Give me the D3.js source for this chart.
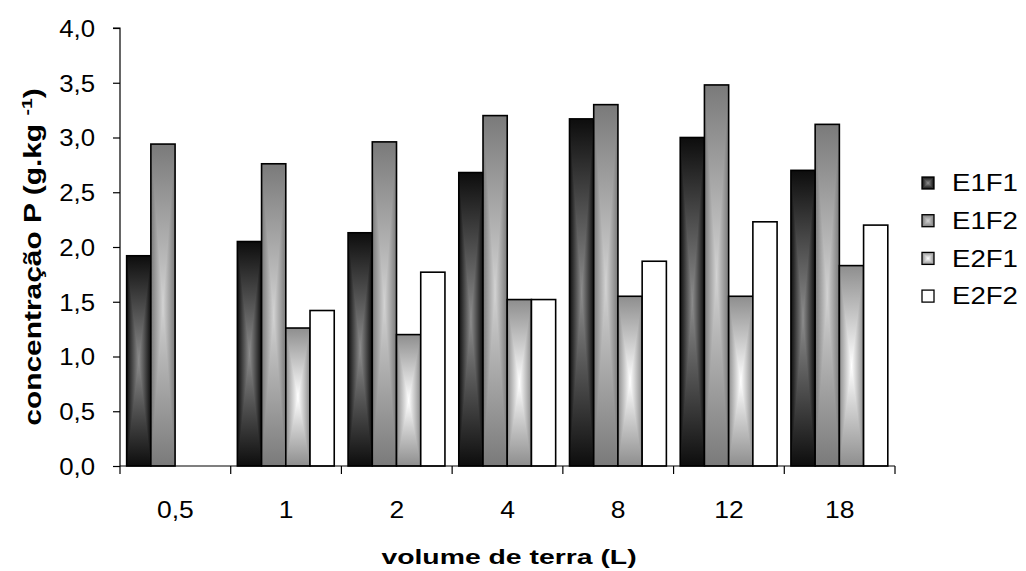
<!DOCTYPE html>
<html>
<head>
<meta charset="utf-8">
<script src="https://cdn.jsdelivr.net/npm/d3@7"></script>
<style>
  html, body { margin: 0; padding: 0; background: #fff; }
  svg { display: block; font-family: "Liberation Sans", Arial, sans-serif; }
</style>
</head>
<body>
<svg id="chart" width="1026" height="571"></svg>
<script>
// Phosphorus concentration by soil volume, four treatments
const categories = ["0,5", "1", "2", "4", "8", "12", "18"];
const seriesNames = ["E1F1", "E1F2", "E2F1", "E2F2"];
const E1F1 = [1.92, 2.05, 2.13, 2.68, 3.17, 3.00, 2.70];
const E1F2 = [2.94, 2.76, 2.96, 3.20, 3.30, 3.48, 3.12];
const E2F1 = [null, 1.26, 1.20, 1.52, 1.55, 1.55, 1.83];
const E2F2 = [null, 1.42, 1.77, 1.52, 1.87, 2.23, 2.20];
const yTicks = [0, 0.5, 1, 1.5, 2, 2.5, 3, 3.5, 4];

const seriesValues = [E1F1, E1F2, E2F1, E2F2];
// edge / centre shades of each "from centre" fill
const shades = [
  { edge: "#0d0d0d", centre: "#8c8c8c" },
  { edge: "#7a7a7a", centre: "#d2d2d2" },
  { edge: "#8e8e8e", centre: "#ffffff" },
  { edge: "#ffffff", centre: "#ffffff" }
];

const svg = d3.select("#chart");
const plot = { left: 120, right: 895, top: 28, bottom: 466 };

const x = d3.scaleBand().domain(categories).range([plot.left, plot.right]).padding(0);
const xs = d3.scaleBand().domain(seriesNames)
  .range([x.bandwidth() * 0.06, x.bandwidth() * 0.935]).padding(0);
const y = d3.scaleLinear().domain([0, 4]).range([plot.bottom, plot.top]);

// widen a text run by a factor, keeping its font size
function widen(sel, k) {
  sel.each(function () {
    const w = this.getComputedTextLength();
    d3.select(this).attr("textLength", w * k).attr("lengthAdjust", "spacingAndGlyphs");
  });
}

// gradients: one across the width, one for each half of the height
const defs = svg.append("defs");
seriesNames.forEach((name, i) => {
  const s = shades[i];
  const h = defs.append("linearGradient").attr("id", "gh" + i)
    .attr("x1", 0).attr("y1", 0).attr("x2", 1).attr("y2", 0);
  h.append("stop").attr("offset", 0).attr("stop-color", s.edge);
  h.append("stop").attr("offset", 0.5).attr("stop-color", s.centre);
  h.append("stop").attr("offset", 1).attr("stop-color", s.edge);
  const t = defs.append("linearGradient").attr("id", "gt" + i)
    .attr("x1", 0).attr("y1", 0).attr("x2", 0).attr("y2", 1);
  t.append("stop").attr("offset", 0).attr("stop-color", s.edge);
  t.append("stop").attr("offset", 1).attr("stop-color", s.centre);
  const b = defs.append("linearGradient").attr("id", "gb" + i)
    .attr("x1", 0).attr("y1", 0).attr("x2", 0).attr("y2", 1);
  b.append("stop").attr("offset", 0).attr("stop-color", s.centre);
  b.append("stop").attr("offset", 1).attr("stop-color", s.edge);
});

// rectangle shaded from its centre outwards (sides + top/bottom wedges)
function shadedBox(g, i, bx, by, bw, bh, sw) {
  const cx = bx + bw / 2, cy = by + bh / 2;
  g.append("rect").attr("x", bx).attr("y", by).attr("width", bw).attr("height", bh)
    .attr("fill", `url(#gh${i})`);
  g.append("path").attr("d", `M${bx},${by}L${bx + bw},${by}L${cx},${cy}Z`)
    .attr("fill", `url(#gt${i})`);
  g.append("path").attr("d", `M${bx},${by + bh}L${bx + bw},${by + bh}L${cx},${cy}Z`)
    .attr("fill", `url(#gb${i})`);
  g.append("rect").attr("x", bx).attr("y", by).attr("width", bw).attr("height", bh)
    .attr("fill", "none").attr("stroke", "#000").attr("stroke-width", sw);
}

// bars
const barLayer = svg.append("g");
categories.forEach((cat, ci) => {
  seriesNames.forEach((name, si) => {
    const v = seriesValues[si][ci];
    if (v == null) return;
    const bx = x(cat) + xs(name);
    const by = y(v);
    shadedBox(barLayer.append("g"), si, bx, by, xs.bandwidth(), y(0) - by, 1.6);
  });
});

// y axis
const yAxis = d3.axisLeft(y).tickValues(yTicks).tickSize(7).tickPadding(18)
  .tickFormat(d => d3.format(".1f")(d).replace(".", ","));
const gy = svg.append("g").attr("transform", `translate(${plot.left},0)`).call(yAxis);
gy.select(".domain").attr("stroke", "#000").attr("stroke-width", 1.2).attr("d", `M-7,${plot.top}H0V${plot.bottom}`);
gy.selectAll(".tick line").attr("stroke", "#000").attr("stroke-width", 1.2);
gy.selectAll(".tick text").attr("font-size", 23).attr("fill", "#000").attr("dy", "0.36em")
  .attr("font-family", "Liberation Sans, Arial, sans-serif").call(widen, 1.12);

// x axis: ticks sit at category boundaries
const gx = svg.append("g").attr("transform", `translate(0,${plot.bottom})`);
gx.append("line").attr("x1", plot.left).attr("x2", plot.right)
  .attr("stroke", "#000").attr("stroke-width", 1.2);
const bounds = categories.map(c => x(c)).concat([plot.right]);
gx.selectAll("line.tk").data(bounds).join("line").attr("class", "tk")
  .attr("x1", d => d).attr("x2", d => d).attr("y1", 0).attr("y2", 8)
  .attr("stroke", "#000").attr("stroke-width", 1.2);
gx.selectAll("text").data(categories).join("text")
  .attr("x", d => x(d) + x.bandwidth() / 2).attr("y", 52)
  .attr("text-anchor", "middle").attr("font-size", 23).attr("fill", "#000")
  .text(d => d).call(widen, 1.15);

// axis titles
svg.append("text").attr("x", 509).attr("y", 564)
  .attr("text-anchor", "middle").attr("font-size", 21).attr("font-weight", "bold")
  .text("volume de terra (L)").call(widen, 1.35);

const yt = svg.append("text").attr("transform", "translate(41,257) rotate(-90)")
  .attr("text-anchor", "middle").attr("font-size", 23).attr("font-weight", "bold");
yt.append("tspan").text("concentração P (g.kg ");
yt.append("tspan").attr("dy", -9).attr("font-size", 15).text("-1");
yt.append("tspan").attr("dy", 9).text(")");
yt.call(widen, 1.3);

// legend
const legend = svg.append("g");
seriesNames.forEach((name, i) => {
  const ly = 183 + i * 37.7;
  shadedBox(legend.append("g"), i, 922, ly - 6, 12, 12, 1.3);
  legend.append("text").attr("x", 952).attr("y", ly).attr("dy", "0.36em")
    .attr("font-size", 23).attr("fill", "#000").text(name).call(widen, 1.2);
});
</script>
</body>
</html>
